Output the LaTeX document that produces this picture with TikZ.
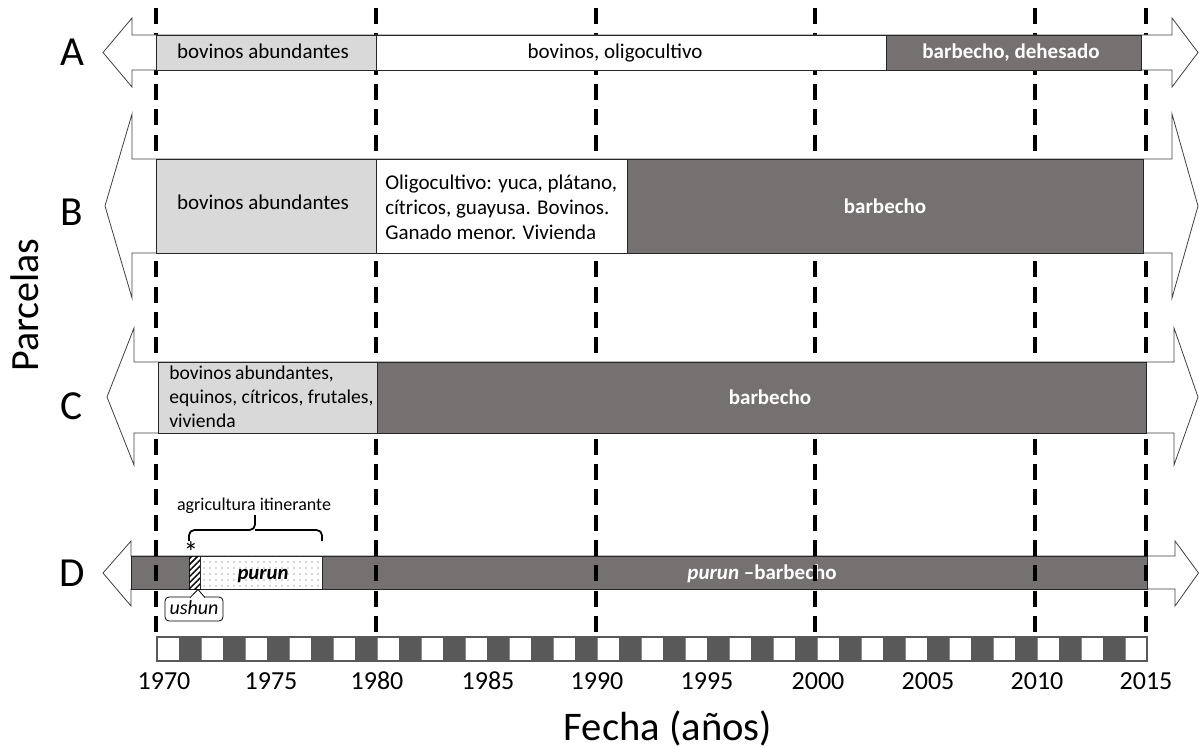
\documentclass[tikz,border=0pt]{standalone}
\usepackage{fontspec}
\setmainfont{Carlito}
\usetikzlibrary{patterns.meta}
\definecolor{lgray}{HTML}{D9D9D9}
\definecolor{dgray}{HTML}{767171}
\definecolor{tgray}{HTML}{595959}
\begin{document}
\begin{tikzpicture}[x=0.75pt,y=-0.75pt,
  arrowshape/.style={draw=black!75, line width=0.6pt, fill=white},
  lbox/.style={draw=black!85, line width=0.6pt, fill=lgray},
  wbox/.style={draw=black!85, line width=0.6pt, fill=white},
  dbox/.style={draw=black!85, line width=0.6pt, fill=dgray},
  boxtxt/.style={font=\fontsize{15.75}{18.6}\selectfont, inner sep=0pt, anchor=base},
  mltxt/.style={font=\fontsize{15.75}{18.6}\selectfont, inner sep=0pt, align=left, anchor=west},
  wtxt/.style={font=\fontsize{15.75}{18.6}\selectfont\bfseries, text=white, inner sep=0pt, anchor=base},
  rowlbl/.style={font=\fontsize{31}{31}\selectfont, inner sep=0pt, anchor=base},
  yearlbl/.style={font=\fontsize{19.5}{20}\selectfont, inner sep=0pt, anchor=base},
  vline/.style={line width=2.6pt, dash pattern=on 12pt off 7pt}]
\useasboundingbox (0,0) rectangle (1199,748);

% ---------- Row D (behind dashed lines) ----------
\draw[arrowshape] (131,556) -- (131,541) -- (103,573) -- (131,606) -- (131,589)
  -- (1175,589) -- (1175,606) -- (1198.5,573) -- (1175,541) -- (1175,556) -- cycle;
\path[dbox] (131,556) rectangle (189,589);
\path[draw=black!85, line width=0.6pt, fill=white] (189,556) rectangle (200,589);
\path[pattern={Lines[angle=45,distance=3.2pt,line width=1.1pt]}] (189,556) rectangle (200,589);
\path[draw=black!85, line width=0.6pt, fill=white] (200,556) rectangle (322,589);
\path[pattern={Dots[distance=4.5pt,radius=0.4pt]}, pattern color=black!65] (200,556) rectangle (322,589);
\path[dbox] (322,556) rectangle (1147,589);
\node[font=\fontsize{15.5}{18}\selectfont\bfseries\itshape, inner sep=0pt, anchor=base] (purun) at (263,579.5) {purun};
\node[wtxt] (purunb) at (762,579.5) {\textit{purun} –barbecho};

% ---------- dashed year lines ----------
\foreach \xx in {156,376,596,815,1035,1146}
  \draw[vline] (\xx,8) -- (\xx,632);

% ---------- Row A ----------
\draw[arrowshape] (132,35) -- (132,18) -- (103,52.5) -- (132,87) -- (132,70)
  -- (1172,70) -- (1172,87) -- (1198,52.5) -- (1172,18) -- (1172,35) -- cycle;
\path[lbox] (156,35) rectangle (376,70);
\path[wbox] (376,35) rectangle (886,70);
\path[dbox] (886,35) rectangle (1141,70);
\node[boxtxt] (a1) at (263,59) {bovinos abundantes};
\node[boxtxt] (a2) at (615,59) {bovinos, oligocultivo};
\node[wtxt] (a3) at (1011,59) {barbecho, dehesado};

% ---------- Row B ----------
\draw[arrowshape] (132,159) -- (132,114) -- (105,206) -- (132,298) -- (132,253)
  -- (1172,253) -- (1172,298) -- (1198,206) -- (1172,114) -- (1172,159) -- cycle;
\path[lbox] (156,159) rectangle (376,253);
\path[wbox] (376,159) rectangle (627,253);
\path[dbox] (627,159) rectangle (1143,253);
\node[boxtxt] (b1) at (263,209.5) {bovinos abundantes};
\node[mltxt] (b2) at (385,207)
  {Oligocultivo: yuca, plátano,\\cítricos, guayusa. Bovinos.\\Ganado menor. Vivienda};
\node[wtxt] (b3) at (885,214) {barbecho};

% ---------- Row C ----------
\draw[arrowshape] (134,362) -- (134,328) -- (107,397) -- (134,465) -- (134,433)
  -- (1174,433) -- (1174,465) -- (1198,397) -- (1174,328) -- (1174,362) -- cycle;
\path[lbox] (158,362) rectangle (377,433);
\path[dbox] (377,362) rectangle (1146,433);
\node[mltxt, font=\fontsize{14.7}{17.8}\selectfont] (c1) at (169,397)
  {\spaceskip=0.19em plus 0.05em minus 0.05em\relax bovinos abundantes,\\equinos, cítricos, frutales,\\vivienda};
\node[wtxt] (c2) at (770,404) {barbecho};

% ---------- D annotations ----------
\draw[line width=1.3pt, rounded corners=4] (189,541) |- (255,530) -- (255,515);
\draw[line width=1.3pt, rounded corners=4] (322,541) |- (255,530);
\node[font=\fontsize{13.5}{15}\selectfont, inner sep=0pt, anchor=base] (agri) at (254,510) {agricultura itinerante};
\node[font=\fontsize{22}{22}\selectfont, inner sep=0pt] (ast) at (191,552) {*};
\coordinate (tip) at (198,589.5);
\draw[line width=0.6pt, fill=white, rounded corners=3] (205,597) -| (223,621) -| (165,597) -- (190,597);
\draw[line width=0.6pt, fill=white] (190,597.6) -- (tip) -- (205,597.6);
\node[font=\fontsize{15}{16}\selectfont\itshape, inner sep=0pt, anchor=base] (ushun) at (194,614) {ushun};

% ---------- Row labels ----------
\node[rowlbl] (labelA) at (72,66) {A};
\node[rowlbl] (labelB) at (72,226) {B};
\node[rowlbl] (labelC) at (72,419) {C};
\node[rowlbl] (labelD) at (72,586) {D};
\node[font=\fontsize{30}{30}\selectfont, rotate=90, inner sep=0pt] (parc) at (25,305) {Parcelas};

% ---------- timeline bar ----------
\foreach \i in {0,...,44} {
  \pgfmathsetmacro{\xa}{157+22*\i}
  \pgfmathsetmacro{\xb}{157+22*(\i+1)}
  \ifodd\i
    \path[fill=tgray] (\xa,637) rectangle (\xb,661);
  \else
    \path[fill=white, draw=black!45, line width=0.5pt] (\xa,637) rectangle (\xb,661);
  \fi
}
\draw[draw=tgray, line width=0.8pt] (157,637) rectangle (1147,661);
\draw[draw=tgray, line width=1.5pt] (157,661) -- (1147,661);

\foreach \yr/\xx in {1970/164,1975/271,1980/377,1985/488,1990/597,1995/707,2000/818,2005/928,2010/1037,2015/1146}
  \node[yearlbl] (y\yr) at (\xx,689) {\yr};

\node[font=\fontsize{30.5}{31}\selectfont, inner sep=0pt, anchor=base] (fecha) at (668,740) {Fecha (años)};
\end{tikzpicture}
\end{document}
